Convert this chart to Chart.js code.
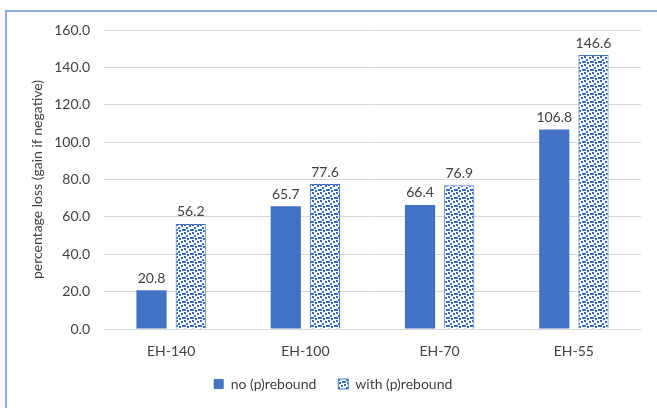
<!DOCTYPE html>
<html>
<head>
<meta charset="utf-8">
<script src="https://cdn.jsdelivr.net/npm/chart.js@4/dist/chart.umd.min.js"></script>
<style>
  html, body { margin: 0; padding: 0; background: #ffffff; }
  #wrap { width: 657px; height: 408px; position: relative; }
</style>
</head>
<body>
<div id="wrap"><canvas id="c" width="657" height="408"></canvas></div>
<script>
// Categories and series
const categories = ['EH-140', 'EH-100', 'EH-70', 'EH-55'];
const noRebound = [20.8, 65.7, 66.4, 106.8];
const withRebound = [56.2, 77.6, 76.9, 146.6];
const seriesNames = ['no (p)rebound', 'with (p)rebound'];
const yTicks = [0, 20, 40, 60, 80, 100, 120, 140, 160];

const BLUE = '#4472C4';
const FONT = "Lato, 'Open Sans', sans-serif";

// Confetti fill: small blue squares on white, repeated via an 8x8 tile
function confettiPattern() {
  const t = document.createElement('canvas');
  t.width = 8; t.height = 8;
  const g = t.getContext('2d');
  g.fillStyle = '#ffffff';
  g.fillRect(0, 0, 8, 8);
  g.fillStyle = '#2F6FC6';
  [[0, 0], [5, 1], [2, 3], [6, 5], [3, 6], [0, 5]].forEach(([x, y]) => g.fillRect(x, y, 2, 2));
  return g.createPattern(t, 'repeat');
}
const confetti = confettiPattern();

// Value labels above each bar
const valueLabels = {
  id: 'valueLabels',
  afterDatasetsDraw(chart) {
    const ctx = chart.ctx;
    ctx.save();
    ctx.font = '14px ' + FONT;
    ctx.fillStyle = '#404040';
    ctx.textAlign = 'center';
    ctx.textBaseline = 'bottom';
    chart.data.datasets.forEach((ds, i) => {
      chart.getDatasetMeta(i).data.forEach((bar, j) => {
        ctx.fillText(ds.data[j].toFixed(1), bar.x, bar.y - 5);
      });
    });
    ctx.restore();
  }
};

// Outer frame lines along the left and top edges
const frame = {
  id: 'frame',
  afterDraw(chart) {
    const ctx = chart.ctx;
    ctx.save();
    ctx.strokeStyle = '#8EA9DB';
    ctx.lineWidth = 2;
    ctx.beginPath();
    ctx.moveTo(6, 408);
    ctx.lineTo(6, 11);
    ctx.lineTo(657, 11);
    ctx.stroke();
    ctx.restore();
  }
};

new Chart(document.getElementById('c'), {
  type: 'bar',
  data: {
    labels: categories,
    datasets: [
      {
        label: seriesNames[0],
        data: noRebound,
        backgroundColor: BLUE,
        borderColor: BLUE,
        borderWidth: 0,
        categoryPercentage: 0.584,
        barPercentage: 0.77
      },
      {
        label: seriesNames[1],
        data: withRebound,
        backgroundColor: confetti,
        borderColor: BLUE,
        borderWidth: 1,
        categoryPercentage: 0.584,
        barPercentage: 0.77
      }
    ]
  },
  options: {
    responsive: false,
    animation: false,
    devicePixelRatio: 1,
    layout: { padding: { left: 25, right: 16, top: 30, bottom: 7 } },
    plugins: {
      legend: {
        position: 'bottom',
        labels: {
          boxWidth: 10,
          boxHeight: 10,
          padding: 8,
          color: '#404040',
          font: { family: FONT, size: 14 },
          // widen the gap between the two legend entries
          generateLabels(chart) {
            const items = Chart.defaults.plugins.legend.labels.generateLabels(chart);
            items.forEach((it, i) => {
              if (i < items.length - 1) it.text = it.text + '\u2002\u2002';
            });
            return items;
          }
        }
      },
      tooltip: { enabled: false }
    },
    scales: {
      x: {
        afterFit(axis) { axis.height = 40; },
        grid: { display: false, drawTicks: false },
        border: { display: true, color: '#D9D9D9' },
        ticks: { color: '#404040', font: { family: FONT, size: 14 }, padding: 14 }
      },
      y: {
        min: 0,
        max: 160,
        afterBuildTicks(axis) { axis.ticks = yTicks.map(v => ({ value: v })); },
        afterFit(axis) { axis.width = 79; },
        grid: { color: '#D9D9D9', drawTicks: false },
        border: { display: false },
        ticks: {
          color: '#404040',
          font: { family: FONT, size: 14 },
          padding: 14,
          callback: v => Number(v).toFixed(1)
        },
        title: {
          display: true,
          text: 'percentage loss (gain if negative)',
          color: '#404040',
          font: { family: FONT, size: 14 },
          padding: { top: 4, bottom: 4 }
        }
      }
    }
  },
  plugins: [valueLabels, frame]
});
</script>
</body>
</html>
